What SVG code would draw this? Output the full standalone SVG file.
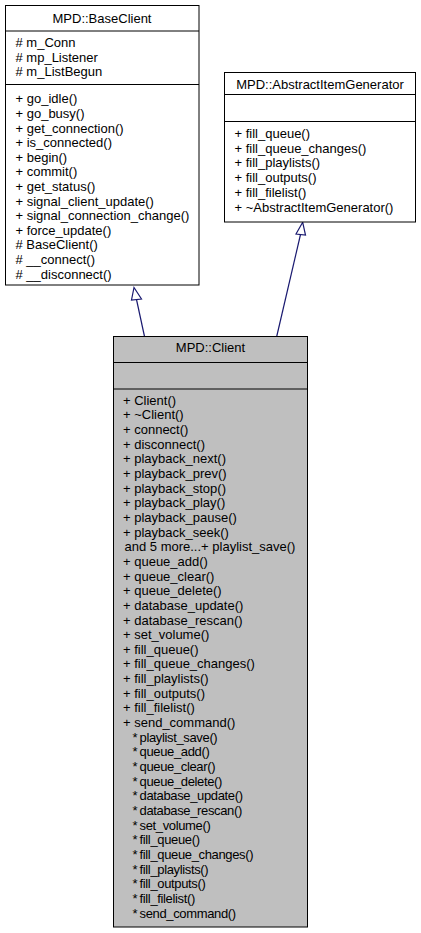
<svg xmlns="http://www.w3.org/2000/svg" width="421" height="933" viewBox="0 0 421 933">
<style>
text{font-family:"Liberation Sans",Arial,Helvetica,sans-serif;font-size:13px;fill:#000}
.t{text-anchor:middle}
.s tspan{letter-spacing:-0.35px}
.box{fill:#fff;stroke:#000;stroke-width:1}
.cur{fill:#bfbfbf;stroke:#000;stroke-width:1}
.sep{stroke:#000;stroke-width:1}
.edge{stroke:#191970;stroke-width:1.2;fill:none}
.head{stroke:#191970;stroke-width:1.2;fill:#fff}
</style>
<rect width="421" height="933" fill="#fff"/>
<g id="connectors">
<line class="edge" x1="144.5" y1="336.5" x2="136.5" y2="299.5"/>
<polygon class="head" points="134,287.5 131.5,300 141.5,299"/>
<line class="edge" x1="276.7" y1="336.5" x2="300.5" y2="234.5"/>
<polygon class="head" points="302.7,222.3 296,234 305.5,235"/>
</g>
<g id="BaseClient">
<rect class="box" x="5.5" y="5.5" width="193.5" height="279.5"/>
<line class="sep" x1="5.5" y1="31" x2="199" y2="31"/>
<line class="sep" x1="5.5" y1="84.5" x2="199" y2="84.5"/>
<text class="t" x="102" y="22.5">MPD::BaseClient</text>
<text x="15.5" y="47"># m_Conn</text>
<text x="15.5" y="61.6"># mp_Listener</text>
<text x="15.5" y="76.2"># m_ListBegun</text>
<text x="15.5" y="103.3">+ go_idle()</text>
<text x="15.5" y="117.9">+ go_busy()</text>
<text x="15.5" y="132.5">+ get_connection()</text>
<text x="15.5" y="147.1">+ is_connected()</text>
<text x="15.5" y="161.7">+ begin()</text>
<text x="15.5" y="176.3">+ commit()</text>
<text x="15.5" y="190.9">+ get_status()</text>
<text x="15.5" y="205.5">+ signal_client_update()</text>
<text x="15.5" y="220.1">+ signal_connection_change()</text>
<text x="15.5" y="234.7">+ force_update()</text>
<text x="15.5" y="249.3"># BaseClient()</text>
<text x="15.5" y="263.9"># __connect()</text>
<text x="15.5" y="278.5"># __disconnect()</text>
</g>
<g id="AbstractItemGenerator">
<rect class="box" x="224.5" y="72.5" width="191" height="149.5"/>
<line class="sep" x1="224.5" y1="94.5" x2="415.5" y2="94.5"/>
<line class="sep" x1="224.5" y1="121.5" x2="415.5" y2="121.5"/>
<text class="t" x="320" y="88.7">MPD::AbstractItemGenerator</text>
<text x="234.5" y="137.7">+ fill_queue()</text>
<text x="234.5" y="152.6">+ fill_queue_changes()</text>
<text x="234.5" y="167.4">+ fill_playlists()</text>
<text x="234.5" y="182.3">+ fill_outputs()</text>
<text x="234.5" y="197.1">+ fill_filelist()</text>
<text x="234.5" y="212">+ ~AbstractItemGenerator()</text>
</g>
<g id="Client">
<rect class="cur" x="113.5" y="336.5" width="194" height="590.5"/>
<line class="sep" x1="113.5" y1="362.5" x2="307.5" y2="362.5"/>
<line class="sep" x1="113.5" y1="389" x2="307.5" y2="389"/>
<text class="t" x="210.5" y="352.4">MPD::Client</text>
<text x="123" y="404.7">+ Client()</text>
<text x="123" y="419.4">+ ~Client()</text>
<text x="123" y="434">+ connect()</text>
<text x="123" y="448.7">+ disconnect()</text>
<text x="123" y="463.3">+ playback_next()</text>
<text x="123" y="478">+ playback_prev()</text>
<text x="123" y="492.6">+ playback_stop()</text>
<text x="123" y="507.3">+ playback_play()</text>
<text x="123" y="521.9">+ playback_pause()</text>
<text x="123" y="536.6">+ playback_seek()</text>
<text x="124.5" y="551.2">and 5 more...+ playlist_save()</text>
<text x="123" y="565.9">+ queue_add()</text>
<text x="123" y="580.5">+ queue_clear()</text>
<text x="123" y="595.2">+ queue_delete()</text>
<text x="123" y="609.8">+ database_update()</text>
<text x="123" y="624.5">+ database_rescan()</text>
<text x="123" y="639.1">+ set_volume()</text>
<text x="123" y="653.8">+ fill_queue()</text>
<text x="123" y="668.4">+ fill_queue_changes()</text>
<text x="123" y="683.1">+ fill_playlists()</text>
<text x="123" y="697.7">+ fill_outputs()</text>
<text x="123" y="712.4">+ fill_filelist()</text>
<text x="123" y="727">+ send_command()</text>
<text class="s" x="132.5" y="741.7">*<tspan x="139.5">playlist_save()</tspan></text>
<text class="s" x="132.5" y="756.3">*<tspan x="139.5">queue_add()</tspan></text>
<text class="s" x="132.5" y="771">*<tspan x="139.5">queue_clear()</tspan></text>
<text class="s" x="132.5" y="785.6">*<tspan x="139.5">queue_delete()</tspan></text>
<text class="s" x="132.5" y="800.3">*<tspan x="139.5">database_update()</tspan></text>
<text class="s" x="132.5" y="814.9">*<tspan x="139.5">database_rescan()</tspan></text>
<text class="s" x="132.5" y="829.6">*<tspan x="139.5">set_volume()</tspan></text>
<text class="s" x="132.5" y="844.2">*<tspan x="139.5">fill_queue()</tspan></text>
<text class="s" x="132.5" y="858.9">*<tspan x="139.5">fill_queue_changes()</tspan></text>
<text class="s" x="132.5" y="873.5">*<tspan x="139.5">fill_playlists()</tspan></text>
<text class="s" x="132.5" y="888.2">*<tspan x="139.5">fill_outputs()</tspan></text>
<text class="s" x="132.5" y="902.8">*<tspan x="139.5">fill_filelist()</tspan></text>
<text class="s" x="132.5" y="917.5">*<tspan x="139.5">send_command()</tspan></text>
</g>
</svg>
